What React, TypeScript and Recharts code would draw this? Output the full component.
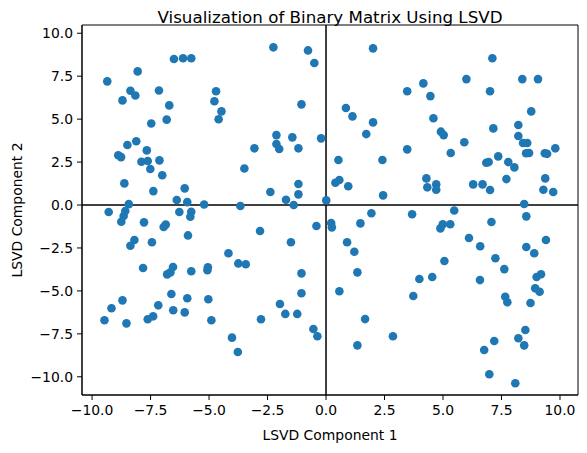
import React from 'react';
import {
  ScatterChart,
  Scatter,
  XAxis,
  YAxis,
  ReferenceLine,
  ReferenceArea,
} from 'recharts';

// First LSVD component of each row of the binary matrix
const componentOne = [
  -6.50, -6.11, -5.76, -8.05, -9.35, -8.36, -8.15, -8.70, -7.14, -6.70,
  -6.81, -7.47, -8.49, -8.11, -8.76, -8.88, -7.66, -7.89, -7.62, -7.12,
  -7.51, -7.00, -8.62, -7.38, -6.04, -6.38, -5.93, -5.21, -8.43,
  -9.29, -8.58, -8.65, -8.75, -7.78, -6.94, -6.85, -6.27, -5.76, -5.80,
  -8.19, -8.36, -7.44, -5.90, -7.82, -6.54, -6.79, -6.65, -5.76, -6.61,
  -5.93, -8.70, -9.17, -7.17, -6.53, -6.04, -9.47, -8.53, -7.62, -7.39,
  -3.66, -1.71, -1.38, -1.18, -2.38, 0.01, -0.41, 0.22, 0.25, -2.82,
  -1.50, -4.17, -3.75, -3.43, -5.05, -5.07, -1.05, -1.05, -1.97, -1.74,
  -1.23, -5.03, -4.90, -2.78, -0.54, -0.37, -4.02, -3.77,
  -2.25, -0.77, -0.50, -4.70, -4.77, -4.47, -4.59, -1.05, -2.12, -2.12,
  -2.00, -1.44, -1.18, -0.21, -3.06, -3.49, -1.18,
  2.01, 3.47, 4.16, 4.46, 0.85, 1.13, 2.01, 1.72, 4.59, 4.91,
  5.03, 3.47, 5.33, 0.53, 2.41, 0.40, 0.57, 0.95, 4.29, 4.33,
  4.71, 4.71, 2.44,
  1.94, 3.68, 5.48, 1.47, 4.89, 4.99, 5.31, 0.90, 1.21, 5.06,
  1.34, 3.99, 4.54, 3.73, 0.57, 1.67, 2.86, 1.34,
  7.11, 6.00, 8.39, 9.06, 7.01, 8.77, 7.15, 8.22, 8.22, 8.42,
  8.60, 8.55, 8.68, 5.91, 9.35, 9.45, 9.80, 7.36, 6.85, 6.95,
  7.79, 8.05, 7.71, 6.29, 6.69, 7.01, 9.37, 9.29, 9.71, 8.47,
  7.07, 8.56, 6.11, 6.59, 8.56, 8.90, 9.40, 7.24, 7.62, 6.58,
  9.00, 9.19, 8.94, 9.13, 7.66, 7.75, 8.74, 8.52, 8.22, 8.47,
  7.19, 6.76, 6.98, 8.09,
];

// Second LSVD component, same row order
const componentTwo = [
  8.50, 8.54, 8.54, 7.78, 7.20, 6.65, 6.38, 6.09, 6.67, 5.80,
  4.97, 4.75, 3.49, 3.71, 2.79, 2.90, 3.18, 2.52, 2.56, 2.60,
  2.10, 1.73, 1.26, 0.81, 0.97, 0.29, 0.17, 0.03, 0.05,
  -0.41, -0.35, -0.64, -0.97, -1.01, -1.28, -1.14, -0.41, -0.39, -0.68,
  -2.04, -2.37, -2.17, -1.77, -3.67, -3.61, -4.04, -3.92, -3.86, -5.18,
  -5.43, -5.55, -6.01, -5.84, -6.13, -6.25, -6.71, -6.89, -6.65, -6.48,
  -0.06, 0.31, 0.00, 0.62, 0.76, 0.27, -1.22, -1.05, -1.30, -1.51,
  -2.17, -2.81, -3.40, -3.45, -3.63, -3.80, -3.98, -5.14, -5.76, -6.34,
  -6.34, -5.49, -6.71, -6.65, -7.22, -7.64, -7.72, -8.56,
  9.18, 9.00, 8.27, 6.62, 6.04, 5.45, 4.99, 5.86, 4.07, 3.55,
  3.26, 3.94, 3.30, 3.88, 3.30, 2.13, 1.22,
  9.12, 6.62, 7.08, 6.34, 5.65, 5.16, 4.81, 4.13, 5.05, 4.27,
  4.07, 3.24, 3.03, 2.62, 2.62, 1.30, 1.46, 1.09, 1.55, 1.03,
  1.20, 0.89, 0.56,
  -0.48, -0.54, -0.32, -1.07, -1.36, -1.12, -1.12, -2.17, -2.72, -3.26,
  -3.92, -4.31, -4.19, -5.30, -5.02, -6.64, -7.64, -8.17,
  8.54, 7.33, 7.33, 7.33, 6.62, 5.45, 4.46, 4.66, 4.02, 3.61,
  3.61, 3.01, 3.03, 3.65, 3.01, 2.98, 3.30, 2.83, 2.46, 2.50,
  2.50, 2.19, 1.51, 1.20, 1.20, 0.87, 1.55, 0.89, 0.76, 0.06,
  -0.99, -0.66, -1.92, -2.40, -2.44, -2.81, -2.04, -3.10, -3.73, -4.37,
  -4.19, -4.03, -4.85, -5.05, -5.34, -5.66, -5.70, -7.28, -7.76, -8.17,
  -7.92, -8.44, -9.85, -10.38,
];

const axisTicks = [-10, -7.5, -5, -2.5, 0, 2.5, 5, 7.5, 10];

const xDomain: [number, number] = [-10.43, 10.77];
const yDomain: [number, number] = [-11.06, 10.48];

const points = componentOne.map((x, i) => ({ x, y: componentTwo[i] }));

const FONT = '"DejaVu Sans", sans-serif';

const fmt = (v: number) => v.toFixed(1).replace('-', '\u2212');

const dot = (props: any) => (
  <circle cx={props.cx} cy={props.cy} r={4.3} fill="#1f77b4" />
);

export default function App() {
  return (
    <div
      style={{
        position: 'absolute',
        left: 0,
        top: 0,
        width: 587,
        height: 453,
        background: '#fff',
        fontFamily: FONT,
      }}
    >
      <div
        style={{
          position: 'absolute',
          left: 82,
          width: 496,
          top: 7,
          textAlign: 'center',
          fontSize: 16.7,
          color: '#000',
        }}
      >
        Visualization of Binary Matrix Using LSVD
      </div>
      <ScatterChart
        width={587}
        height={453}
        margin={{ top: 25, right: 9, left: 0, bottom: 0 }}
      >
        <XAxis
          type="number"
          dataKey="x"
          domain={xDomain}
          ticks={axisTicks}
          tickFormatter={fmt}
          allowDataOverflow
          height={58}
          tickSize={5}
          tickMargin={5}
          stroke="#000"
          tick={{ fill: '#000', fontSize: 13.9, fontFamily: FONT }}
          label={{
            value: 'LSVD Component 1',
            position: 'insideBottom',
            offset: 13,
            fill: '#000',
            fontSize: 13.9,
            fontFamily: FONT,
          }}
        />
        <YAxis
          type="number"
          dataKey="y"
          domain={yDomain}
          ticks={axisTicks}
          tickFormatter={fmt}
          allowDataOverflow
          width={82}
          tickSize={5}
          tickMargin={4}
          stroke="#000"
          tick={{ fill: '#000', fontSize: 13.9, fontFamily: FONT }}
          label={{
            value: 'LSVD Component 2',
            angle: -90,
            position: 'insideLeft',
            offset: 17,
            style: { textAnchor: 'middle' },
            fill: '#000',
            fontSize: 13.9,
            fontFamily: FONT,
          }}
        />
        <ReferenceArea
          x1={xDomain[0]}
          x2={xDomain[1]}
          y1={yDomain[0]}
          y2={yDomain[1]}
          fill="none"
          stroke="#000"
          strokeWidth={1}
          ifOverflow="visible"
        />
        <Scatter data={points} shape={dot} isAnimationActive={false} />
        <ReferenceLine x={0} stroke="#000" strokeWidth={1.5} />
        <ReferenceLine y={0} stroke="#000" strokeWidth={1.5} />
      </ScatterChart>
    </div>
  );
}
